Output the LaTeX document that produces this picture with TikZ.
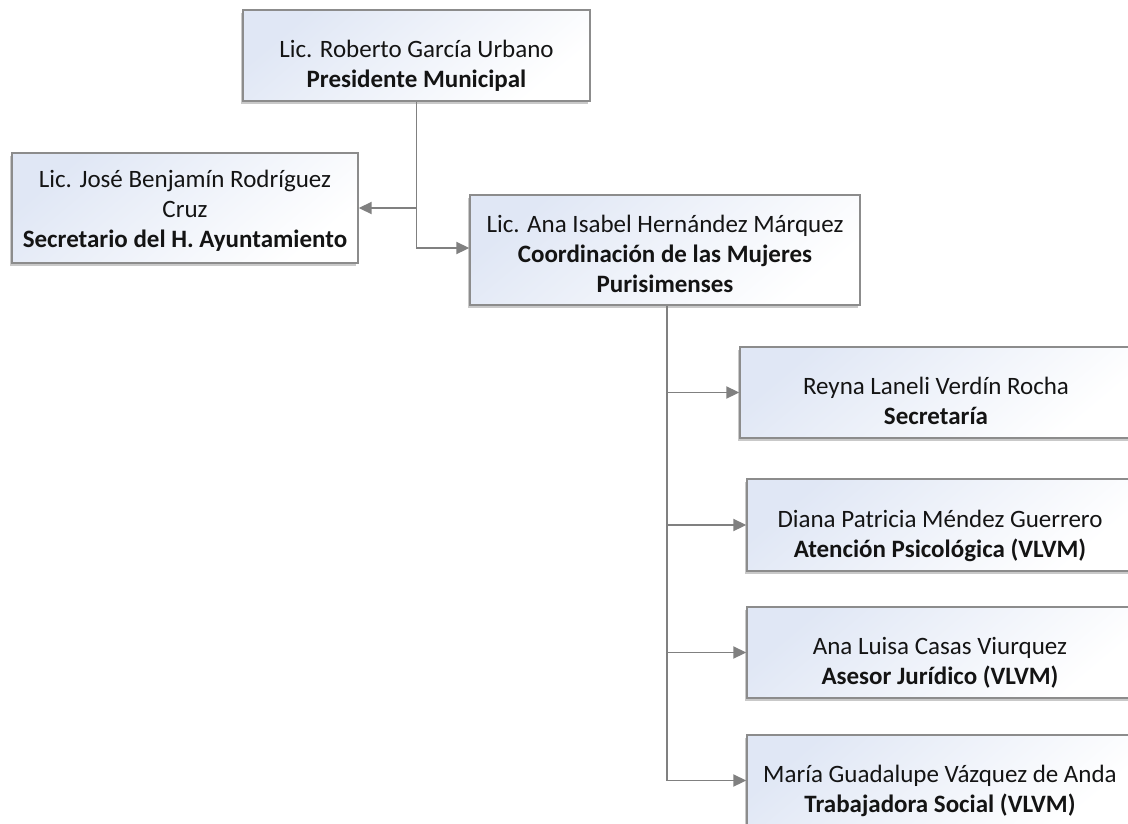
\documentclass[tikz,border=0pt]{standalone}
\usepackage{fontspec}
\setmainfont{Carlito}
\usetikzlibrary{arrows.meta,shadows}
\definecolor{boxtop}{RGB}{224,231,245}
\definecolor{linegray}{RGB}{128,128,128}
\definecolor{bordergray}{RGB}{140,140,140}
\definecolor{txt}{RGB}{20,20,20}
\newcommand{\firstl}[1]{\rule{0pt}{#1}}
\newcommand{\lastl}{\rule[-6pt]{0pt}{6pt}}
\begin{document}
\begin{tikzpicture}[x=1pt,y=-1pt,
  orgbox/.style={draw=bordergray, line width=1.4pt, top color=boxtop, bottom color=white,
    shading angle=40, text=txt, align=center, inner sep=4pt,
    font=\fontsize{25}{30}\selectfont,
    drop shadow={shadow xshift=-2.5pt, shadow yshift=-2.5pt, opacity=.35, fill=black!60}},
  conn/.style={draw=linegray, line width=1.9pt},
  arr/.style={conn, -{Triangle[length=13pt,width=12pt]}}]
\clip (0,0) rectangle (1128,823);
\fill[white] (0,0) rectangle (1128,823);
\node[orgbox, minimum width=347pt, minimum height=91pt] (top) at (416.5,55.5)
  {\firstl{40pt}Lic. Roberto García Urbano\\\bfseries Presidente Municipal\lastl};
\node[orgbox, minimum width=346pt, minimum height=110pt] (jose) at (185,208)
  {\firstl{24pt}Lic. José Benjamín Rodríguez\\Cruz\\\bfseries Secretario del H. Ayuntamiento\lastl};
\node[orgbox, minimum width=390pt, minimum height=110pt] (ana) at (665,250)
  {\firstl{30pt}Lic. Ana Isabel Hernández Márquez\\\bfseries Coordinación de las Mujeres\\\bfseries Purisimenses\lastl};
\node[orgbox, minimum width=392pt, minimum height=91pt] (reyna) at (936,392.5)
  {\firstl{40pt}Reyna Laneli Verdín Rocha\\\bfseries Secretaría\lastl};
\node[orgbox, minimum width=386pt, minimum height=92pt] (diana) at (940,525)
  {\firstl{40pt}Diana Patricia Méndez Guerrero\\\bfseries Atención Psicológica (VLVM)\lastl};
\node[orgbox, minimum width=386pt, minimum height=91pt] (luisa) at (940,652.5)
  {\firstl{40pt}Ana Luisa Casas Viurquez\\\bfseries Asesor Jurídico (VLVM)\lastl};
\node[orgbox, minimum width=386pt, minimum height=91pt] (maria) at (940,780.5)
  {\firstl{40pt}María Guadalupe Vázquez de Anda\\\bfseries Trabajadora Social (VLVM)\lastl};
\coordinate (jb) at (top.south |- jose.east);
\coordinate (ab) at ([xshift=2pt]ana.south);
\draw[arr] (top.south) |- ([yshift=2pt]ana.west);
\draw[arr] (jb) -- (jose.east);
\draw[arr] (ab) |- (maria.west);
\draw[arr] (ab |- reyna.west) -- (reyna.west);
\draw[arr] (ab |- diana.west) -- (diana.west);
\draw[arr] (ab |- luisa.west) -- (luisa.west);
\end{tikzpicture}
\end{document}
